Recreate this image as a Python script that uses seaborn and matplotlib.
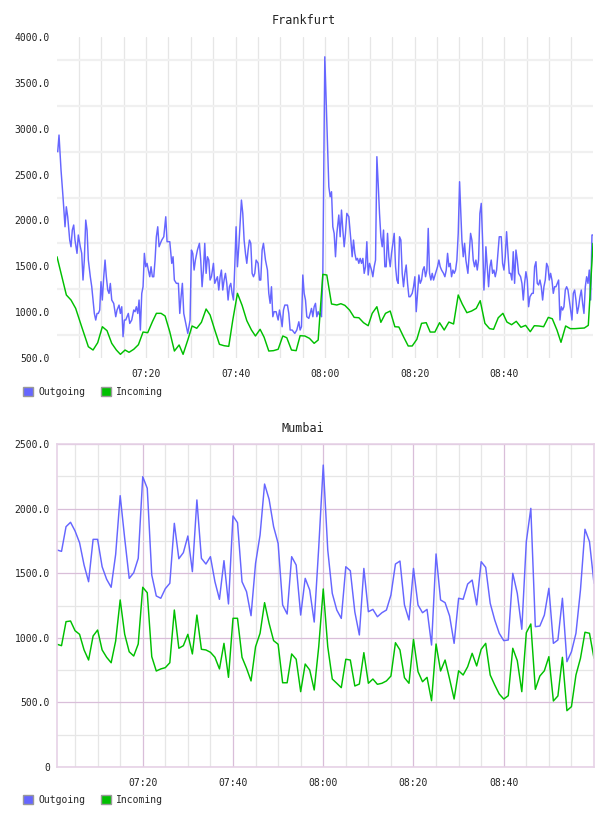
import numpy as np
import pandas as pd
import matplotlib
matplotlib.use("Agg")
import matplotlib.pyplot as plt
from matplotlib.ticker import FixedLocator, FuncFormatter
from matplotlib.patches import Patch
import seaborn as sns

# ---------------- data (minutes after 07:00, value) ----------------
fra_out_min = [0.27, 0.56, 1.01, 1.45, 1.90, 2.19, 2.50, 2.95, 3.24, 3.53, 3.84, 4.13, 4.58, 4.87, 5.32, 5.63,
               5.92, 6.21, 6.53, 6.82, 7.11, 7.55, 7.87, 8.16, 8.45, 8.76, 9.05, 9.34, 9.65, 9.94, 10.23, 10.55,
               10.84, 11.13, 11.44, 11.73, 12.02, 12.34, 12.78, 13.23, 13.52, 13.97, 14.26, 14.57, 14.86, 15.15,
               15.46, 15.75, 16.04, 16.36, 16.80, 17.25, 17.54, 17.83, 18.15, 18.44, 18.73, 19.04, 19.33, 19.62,
               19.93, 20.22, 20.51, 20.83, 21.12, 21.41, 21.72, 22.01, 22.30, 22.61, 22.91, 23.20, 23.51, 23.96,
               24.40, 24.69, 25.30, 25.74, 26.03, 26.32, 26.77, 27.22, 27.53, 27.82, 28.11, 28.42, 28.87, 29.32,
               29.83, 30.13, 30.43, 30.73, 31.02, 31.47, 31.92, 32.21, 32.51, 32.81, 33.11, 33.41, 33.71, 34.01,
               34.30, 34.60, 35.05, 35.35, 35.64, 35.94, 36.24, 36.54, 36.83, 37.13, 37.43, 37.73, 38.03, 38.32,
               38.62, 38.92, 39.22, 39.52, 39.81, 40.11, 40.41, 40.71, 41.01, 41.30, 41.60, 41.90, 42.20, 42.50,
               42.79, 43.09, 43.39, 43.69, 43.99, 44.28, 44.58, 45.03, 45.33, 45.62, 45.92, 46.22, 46.67, 47.11,
               47.41, 47.71, 48.01, 48.31, 48.60, 49.05, 49.50, 49.80, 50.09, 50.39, 50.69, 50.99, 51.58, 51.88,
               52.18, 52.63, 53.22, 53.67, 54.12, 54.41, 54.71, 55.01, 55.31, 55.61, 55.90, 56.35, 56.65, 56.95,
               57.25, 57.54, 57.84, 58.14, 58.44, 58.73, 59.03, 59.18, 59.48, 59.92, 60.37, 60.82, 61.12, 61.42,
               61.71, 62.01, 62.31, 62.61, 63.05, 63.35, 63.65, 63.95, 64.25, 64.54, 64.84, 65.29, 65.74, 66.03,
               66.33, 66.63, 66.93, 67.23, 67.52, 67.82, 68.12, 68.42, 68.72, 69.01, 69.31, 69.61, 69.91, 70.36,
               70.65, 70.95, 71.25, 71.55, 71.84, 72.14, 72.44, 72.74, 73.04, 73.33, 73.63, 73.93, 74.23, 74.53,
               74.82, 75.12, 75.42, 75.72, 76.02, 76.31, 76.61, 76.91, 77.21, 77.50, 77.80, 78.10, 78.40, 78.70,
               78.99, 79.44, 79.74, 80.04, 80.34, 80.63, 80.93, 81.23, 81.53, 81.82, 82.12, 82.42, 82.72, 83.02,
               83.31, 83.61, 83.91, 84.21, 84.66, 85.10, 85.40, 85.70, 86.00, 86.44, 86.74, 87.04, 87.34, 87.64,
               87.93, 88.23, 88.53, 88.83, 89.13, 89.42, 89.72, 90.02, 90.24, 90.54, 90.84, 91.14, 91.43, 91.88,
               92.18, 92.48, 92.77, 93.07, 93.37, 93.67, 93.97, 94.26, 94.56, 94.86, 95.16, 95.46, 95.75, 95.90,
               96.20, 96.50, 96.80, 97.09, 97.39, 97.69, 97.99, 98.29, 98.58, 98.88, 99.33, 99.63, 99.93, 100.22,
               100.52, 100.82, 101.12, 101.42, 101.71, 102.01, 102.31, 102.61, 102.91, 103.20, 103.65, 103.95,
               104.25, 104.54, 104.84, 105.14, 105.44, 105.74, 106.18, 106.48, 106.78, 107.08, 107.37, 107.67,
               107.97, 108.27, 108.57, 108.86, 109.16, 109.46, 109.76, 110.06, 110.35, 110.65, 110.95, 111.25,
               111.55, 111.84, 112.14, 112.44, 112.74, 113.04, 113.33, 113.63, 113.93, 114.23, 114.53, 114.82,
               115.12, 115.42, 115.72, 116.01, 116.31, 116.61, 116.91, 117.21, 117.50, 117.80, 118.10, 118.40,
               118.70, 118.99, 119.29, 119.59, 119.82]
fra_out_val = [2749, 2931, 2549, 2258, 1931, 2149, 2040, 1786, 1713, 1895, 1950, 1786, 1641, 1841, 1713, 1641,
               1350, 1568, 2004, 1895, 1568, 1386, 1277, 1132, 986, 914, 986, 986, 1023, 1332, 1132, 1386,
               1568, 1386, 1241, 1204, 1313, 1132, 1095, 950, 1023, 1077, 986, 1059, 732, 914,
               914, 950, 986, 877, 914, 1023, 1005, 1059, 986, 1132, 805, 1204, 1277, 1641,
               1495, 1532, 1459, 1386, 1495, 1386, 1386, 1568, 1822, 1931, 1713, 1750, 1786, 1822,
               2040, 1768, 1768, 1532, 1604, 1350, 1314, 1314, 986, 1168, 1314, 986, 877, 768,
               914, 1677, 1641, 1459, 1568, 1677, 1750, 1568, 1277, 1459, 1750, 1423, 1604, 1568,
               1350, 1386, 1532, 1314, 1350, 1386, 1241, 1386, 1459, 1241, 1350, 1423, 1314, 1132,
               1277, 1314, 1205, 1132, 1495, 1931, 1495, 1713, 1968, 2222, 2077, 1786, 1641, 1532,
               1677, 1786, 1750, 1423, 1386, 1423, 1568, 1532, 1350, 1350, 1677, 1750, 1568, 1459,
               1205, 1096, 1277, 950, 1005, 1005, 914, 1023, 950, 841, 1023, 1077, 1077, 986,
               805, 805, 768, 805, 895, 805, 841, 1405, 1205, 1132, 950, 932, 986, 1041,
               950, 1059, 1096, 950, 1005, 969, 986, 950, 1423, 3784, 3058, 2367, 2258, 2313,
               1931, 1859, 1604, 1859, 2059, 1822, 2113, 1895, 1713, 1859, 2077, 2040, 1786, 1604,
               1786, 1641, 1568, 1586, 1532, 1586, 1532, 1586, 1423, 1495, 1768, 1405, 1532, 1459,
               1386, 1495, 1568, 2695, 2404, 2077, 1822, 1713, 1895, 1495, 1495, 1859, 1604, 1495,
               1641, 1750, 1859, 1495, 1350, 1314, 1822, 1786, 1423, 1277, 1423, 1514, 1314, 1168,
               1168, 1205, 1277, 1386, 1005, 1205, 1405, 1314, 1350, 1459, 1495, 1386, 1459, 1913,
               1423, 1350, 1423, 1350, 1423, 1495, 1568, 1495, 1459, 1423, 1386, 1459, 1641, 1495,
               1532, 1386, 1459, 1423, 1459, 1568, 1859, 2422, 2149, 1786, 1604, 1750, 1568, 1423,
               1641, 1859, 1786, 1568, 1495, 1568, 1459, 1568, 2077, 2186, 1786, 1241, 1495, 1713,
               1495, 1277, 1495, 1568, 1423, 1459, 1386, 1459, 1641, 1822, 1822, 1532, 1459, 1604,
               1877, 1641, 1423, 1423, 1350, 1659, 1314, 1677, 1568, 1423, 1386, 1314,
               1132, 1314, 1441, 1350, 1059, 1168, 1205, 1205, 1495, 1550, 1314, 1296,
               1350, 1277, 1132, 1277, 1350, 1532, 1495, 1350, 1423, 1350, 1205, 1277,
               1277, 1314, 1350, 914, 1059, 1023, 1059, 1241, 1277, 1241, 1132, 1023,
               914, 1205, 1241, 1132, 986, 1059, 1168, 1241, 1096, 986, 1277, 1386,
               1314, 1459, 1132, 1841, 1841]

fra_in_min = [0.11, 2.20, 3.24, 4.28, 5.62, 7.11, 8.16, 9.20, 10.24, 11.28, 12.33, 13.37, 14.27, 15.31, 16.20,
              17.25, 18.29, 19.33, 20.37, 21.42, 22.31, 23.35, 24.25, 25.29, 26.33, 27.38, 28.27, 29.39, 30.28,
              31.32, 32.36, 33.41, 34.30, 35.35, 36.39, 37.43, 38.47, 39.37, 40.41, 41.45, 42.50, 43.54, 44.43,
              45.47, 46.37, 47.41, 48.45, 49.50, 50.54, 51.43, 52.48, 53.52, 54.41, 55.46, 56.50, 57.54, 58.44,
              59.48, 60.37, 61.42, 62.61, 63.51, 64.40, 65.44, 66.48, 67.53, 68.57, 69.61, 70.51, 71.55, 72.44,
              73.48, 74.53, 75.57, 76.46, 77.50, 78.55, 79.44, 80.48, 81.53, 82.57, 83.46, 84.51, 85.55, 86.59,
              87.63, 88.68, 89.72, 90.61, 91.65, 92.70, 93.74, 94.63, 95.68, 96.72, 97.61, 98.66, 99.70, 100.60,
              101.64, 102.68, 103.73, 104.77, 105.81, 106.71, 107.75, 108.79, 109.84, 110.73, 111.77, 112.67,
              113.71, 114.75, 115.80, 116.84, 117.88, 118.77, 119.82]
fra_in_val = [1604, 1187, 1132, 1041, 841, 623, 587, 667, 841, 798, 660, 587, 540, 587, 562,
              595, 645, 783, 776, 896, 987, 987, 958, 787, 576, 642, 540, 707, 849,
              824, 889, 1034, 969, 805, 649, 634, 627, 914, 1205, 1074, 907, 805, 740,
              813, 726, 576, 580, 595, 740, 721, 587, 580, 743, 740, 714, 660, 696,
              1412, 1405, 1089, 1078, 1092, 1074, 1023, 943, 939, 885, 852, 987, 1059, 889,
              987, 1012, 841, 838, 732, 631, 631, 704, 878, 885, 783, 783, 885, 805,
              892, 871, 1187, 1089, 994, 1012, 1041, 1125, 878, 820, 813, 939, 987, 892,
              863, 900, 835, 856, 787, 852, 849, 841, 943, 928, 805, 671,
              849, 820, 820, 824, 827, 856, 1750]

mum_minutes = list(range(1, 121))
mum_out_val = [1680, 1669, 1860, 1894, 1827, 1736, 1563, 1434, 1762, 1762, 1550, 1453, 1391, 1646, 2100,
               1770, 1460, 1504, 1615, 2247, 2157, 1486, 1324, 1306, 1380, 1422, 1886, 1612, 1659, 1788,
               1512, 2067, 1615, 1571, 1628, 1434, 1298, 1597, 1262, 1943, 1891, 1434, 1357, 1171, 1576,
               1796, 2190, 2072, 1860, 1731, 1254, 1184, 1628, 1563, 1176, 1460, 1370, 1122, 1700, 2337,
               1680, 1344, 1215, 1150, 1550, 1519, 1200, 1022, 1537, 1202, 1220, 1163, 1194, 1215, 1331,
               1571, 1594, 1254, 1138, 1537, 1254, 1194, 1220, 944, 1649, 1293, 1272, 1169, 957, 1306,
               1298, 1416, 1447, 1254, 1589, 1545, 1267, 1138, 1035, 978, 983, 1499, 1344, 1066, 1744,
               2002, 1086, 1091, 1176, 1383, 957, 983, 1306, 815, 892, 1035, 1370, 1840, 1744, 1422]
mum_in_val = [950, 939, 1125, 1130, 1055, 1027, 906, 828, 1014, 1060, 906, 849, 807, 975, 1293,
              1027, 892, 859, 952, 1391, 1349, 854, 743, 759, 769, 807, 1215, 919, 939, 1027,
              875, 1176, 911, 906, 888, 849, 759, 957, 694, 1151, 1151, 849, 764, 666, 931,
              1035, 1272, 1112, 978, 950, 652, 652, 875, 834, 583, 797, 751, 596, 931, 1378,
              931, 681, 648, 614, 834, 828, 627, 642, 885, 648, 681, 640, 648, 666, 704,
              962, 906, 691, 648, 988, 738, 660, 694, 513, 952, 743, 828, 681, 526, 745,
              712, 776, 880, 782, 911, 957, 712, 635, 565, 526, 552, 919, 823, 583, 1039,
              1107, 601, 704, 745, 854, 511, 550, 849, 436, 467, 712, 841, 1043, 1035, 841]

series_names = ["Outgoing", "Incoming"]
series_colors = ["#6666ff", "#00c000"]
chart_titles = ["Frankfurt", "Mumbai"]
x_tick_labels = ["07:20", "07:40", "08:00", "08:20", "08:40"]
fra_y_ticks = [500, 1000, 1500, 2000, 2500, 3000, 3500, 4000]
mum_y_ticks = [0, 500, 1000, 1500, 2000, 2500]

# ---------------- styling ----------------
sns.set_style("white")
MONO = ["DejaVu Sans Mono"]
plt.rcParams["font.family"] = MONO

W, H = 608, 816
fig = plt.figure(figsize=(W / 100, H / 100), dpi=100)


def px_rect(l, t, r, b):
    return [l / W, 1 - b / H, (r - l) / W, (b - t) / H]


ax1 = fig.add_axes(px_rect(57, 37, 593, 358))
ax2 = fig.add_axes(px_rect(57, 444, 594, 767))


def tick_minutes(lbl):
    h, m = lbl.split(":")
    return int(h) * 60 + int(m) - 7 * 60


xt = [tick_minutes(s) for s in x_tick_labels]


def draw(ax, out_t, out_v, in_t, in_v):
    df = pd.concat([
        pd.DataFrame({"t": out_t, "v": out_v, "s": series_names[0]}),
        pd.DataFrame({"t": in_t, "v": in_v, "s": series_names[1]}),
    ])
    sns.lineplot(data=df, x="t", y="v", hue="s", ax=ax, estimator=None, sort=False,
                 palette=dict(zip(series_names, series_colors)), linewidth=1.05, legend=False)
    ax.set_xlabel("")
    ax.set_ylabel("")
    ax.set_xlim(min(min(out_t), min(in_t)), max(max(out_t), max(in_t)))


draw(ax1, fra_out_min, fra_out_val, fra_in_min, fra_in_val)
draw(ax2, mum_minutes, mum_out_val, mum_minutes, mum_in_val)

yfmt = FuncFormatter(lambda v, p: "0" if v == 0 else f"{v:.1f}")

# top chart
ax1.set_ylim(fra_y_ticks[0], fra_y_ticks[-1])
ax1.yaxis.set_major_locator(FixedLocator(fra_y_ticks))
ax1.yaxis.set_minor_locator(FixedLocator([(a + b) / 2 for a, b in zip(fra_y_ticks[:-1], fra_y_ticks[1:])]))
ax1.yaxis.set_major_formatter(yfmt)
ax1.xaxis.set_major_locator(FixedLocator(xt))
ax1.xaxis.set_minor_locator(FixedLocator(np.arange(5, 120, 5)))
ax1.set_xticklabels(x_tick_labels)
ax1.grid(False)
ax1.grid(True, which="minor", axis="y", color="#f0f0f0", lw=1.6)
ax1.grid(True, which="both", axis="x", color="#e6e6e6", lw=0.9)
for s in ax1.spines.values():
    s.set_visible(False)

# bottom chart
ax2.set_ylim(mum_y_ticks[0], mum_y_ticks[-1])
ax2.yaxis.set_major_locator(FixedLocator(mum_y_ticks))
ax2.yaxis.set_minor_locator(FixedLocator(np.arange(250, 2500, 500)))
ax2.yaxis.set_major_formatter(yfmt)
ax2.xaxis.set_major_locator(FixedLocator(xt))
ax2.xaxis.set_minor_locator(FixedLocator([m for m in range(5, 120, 5) if m % 20]))
ax2.set_xticklabels(x_tick_labels)
ax2.grid(False)
ax2.grid(True, which="major", color="#d9bed9", lw=0.9)
ax2.grid(True, which="minor", color="#e6e6e6", lw=0.9)
for s in ax2.spines.values():
    s.set_visible(True)
    s.set_color("#e6d2e6")
    s.set_linewidth(1.2)

for ax in (ax1, ax2):
    ax.set_axisbelow(True)
    ax.tick_params(which="both", length=0)
    ax.tick_params(axis="y", pad=5, labelsize=7, labelcolor="#222222")
    ax.tick_params(axis="x", pad=8, labelsize=7, labelcolor="#222222")
    for lbl in ax.get_xticklabels() + ax.get_yticklabels():
        lbl.set_family(MONO)

# titles
fig.text(304 / W, 1 - 20 / H, chart_titles[0], ha="center", va="center", fontsize=8.5, color="#222222")
fig.text(303 / W, 1 - 429 / H, chart_titles[1], ha="center", va="center", fontsize=8.5, color="#222222")

# legends
handles = [Patch(facecolor=c, edgecolor="#999999", linewidth=1.0, label=n)
           for n, c in zip(series_names, series_colors)]
for yc in (392, 800):
    fig.legend(handles=handles, loc="center left", bbox_to_anchor=(23 / W, 1 - yc / H),
               ncol=2, frameon=False, fontsize=7, handlelength=1.05, handleheight=1.05,
               handletextpad=0.5, columnspacing=1.6, borderpad=0, borderaxespad=0)

fig.savefig("out.png", dpi=100, facecolor="white")
